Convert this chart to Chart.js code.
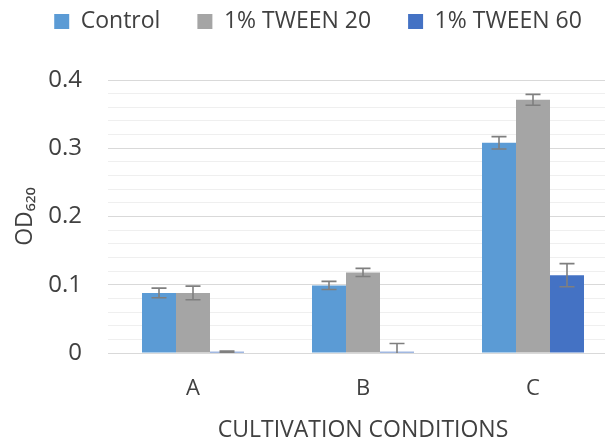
<!DOCTYPE html>
<html>
<head>
<meta charset="utf-8">
<script src="https://cdn.jsdelivr.net/npm/chart.js@4/dist/chart.umd.min.js"></script>
<style>
  html, body { margin: 0; padding: 0; background: #ffffff; overflow: hidden; }
  #wrap { width: 605px; height: 439px; overflow: hidden; }
  canvas { display: block; }
</style>
</head>
<body>
<div id="wrap"><canvas id="chart" width="636" height="439"></canvas></div>
<script>
// Cultivation conditions on the x axis
const categories = ['A', 'B', 'C'];

// Mean OD620 per condition and standard deviations
const controlValues = [0.088, 0.099, 0.308];
const controlErrors = [0.007, 0.006, 0.009];

const tween20Values = [0.088, 0.118, 0.371];
const tween20Errors = [0.010, 0.006, 0.008];

const tween60Values = [0.002, 0.002, 0.114];
const tween60Errors = [0.001, 0.012, 0.017];

// Y axis range and labelled steps
const yMin = 0;
const yMax = 0.4;
const yLabelStep = 0.1;
const yMinorStep = 0.02;

const FONT = "'Open Sans', 'DejaVu Sans', sans-serif";
const TEXT = '#404040';

// Draws vertical error bars with caps on top of each bar
const errorBars = {
  id: 'errorBars',
  afterDatasetsDraw(chart) {
    const { ctx, chartArea, scales } = chart;
    const y = scales.y;
    ctx.save();
    ctx.beginPath();
    ctx.rect(chartArea.left, chartArea.top, chartArea.right - chartArea.left, chartArea.bottom - chartArea.top);
    ctx.clip();
    ctx.strokeStyle = '#7F7F7F';
    ctx.lineWidth = 1.6;
    chart.data.datasets.forEach((ds, di) => {
      const meta = chart.getDatasetMeta(di);
      if (meta.hidden) return;
      meta.data.forEach((bar, i) => {
        const v = ds.data[i];
        const e = ds.errors[i];
        const x = bar.x;
        const hi = y.getPixelForValue(v + e);
        const lo = y.getPixelForValue(v - e);
        const cap = 7.5;
        ctx.beginPath();
        ctx.moveTo(x, hi); ctx.lineTo(x, lo);
        ctx.moveTo(x - cap, hi); ctx.lineTo(x + cap, hi);
        ctx.moveTo(x - cap, lo); ctx.lineTo(x + cap, lo);
        ctx.stroke();
      });
    });
    ctx.restore();
  }
};

// Gives the legend row a taller box (space below the labels) and
// nudges it sideways so it sits centred over the full figure
const legendSpacing = {
  id: 'legendSpacing',
  beforeLayout(chart) {
    const lg = chart.legend;
    if (!lg || lg._tallFit) return;
    const baseFit = lg.fit;
    lg.fit = function () {
      baseFit.call(this);
      this.height = 107;
    };
    lg._tallFit = true;
  },
  afterLayout(chart) {
    const lg = chart.legend;
    if (!lg) return;
    lg.left += 9;
    lg.right += 9;
  }
};

const isMajor = v => Math.abs(Math.round(v * 100) % 10) === 0;

new Chart(document.getElementById('chart'), {
  type: 'bar',
  data: {
    labels: categories,
    datasets: [
      { label: 'Control', data: controlValues, errors: controlErrors, backgroundColor: '#5B9BD5' },
      { label: '1% TWEEN 20', data: tween20Values, errors: tween20Errors, backgroundColor: '#A5A5A5' },
      { label: '1% TWEEN 60', data: tween60Values, errors: tween60Errors, backgroundColor: '#4472C4' }
    ]
  },
  options: {
    responsive: false,
    devicePixelRatio: 1,
    animation: false,
    layout: { padding: { top: -27, right: 18, bottom: 0, left: 0 } },
    datasets: {
      bar: { categoryPercentage: 0.6, barPercentage: 1.0, borderWidth: 0 }
    },
    plugins: {
      tooltip: { enabled: false },
      legend: {
        position: 'top',
        labels: {
          boxWidth: 15,
          boxHeight: 15,
          padding: 37,
          color: TEXT,
          font: { family: FONT, size: 23 }
        }
      }
    },
    scales: {
      x: {
        grid: { display: false },
        border: { display: true, color: '#D9D9D9', width: 1 },
        ticks: { color: TEXT, padding: 15, font: { family: FONT, size: 22 } },
        title: {
          display: true,
          text: 'CULTIVATION CONDITIONS',
          color: TEXT,
          font: { family: FONT, size: 23 },
          padding: { top: 0, bottom: -5 }
        },
        afterFit(scale) { scale.height = 86; }
      },
      y: {
        min: yMin,
        max: yMax,
        border: { display: false },
        grid: {
          drawTicks: false,
          color: ctx => isMajor(ctx.tick.value) ? '#D9D9D9' : '#EFEFEF',
          lineWidth: 1
        },
        ticks: {
          stepSize: yMinorStep,
          autoSkip: false,
          padding: 26,
          color: TEXT,
          font: { family: FONT, size: 24 },
          callback: v => isMajor(v) ? String(+(Math.round(v / yLabelStep) * yLabelStep).toFixed(1)) : ''
        },
        title: {
          display: true,
          text: 'OD₆₂₀',
          color: TEXT,
          font: { family: FONT, size: 23 },
          padding: { top: 12, bottom: 0 }
        },
        afterFit(scale) { scale.width = 108; }
      }
    }
  },
  plugins: [errorBars, legendSpacing]
});
</script>
</body>
</html>
